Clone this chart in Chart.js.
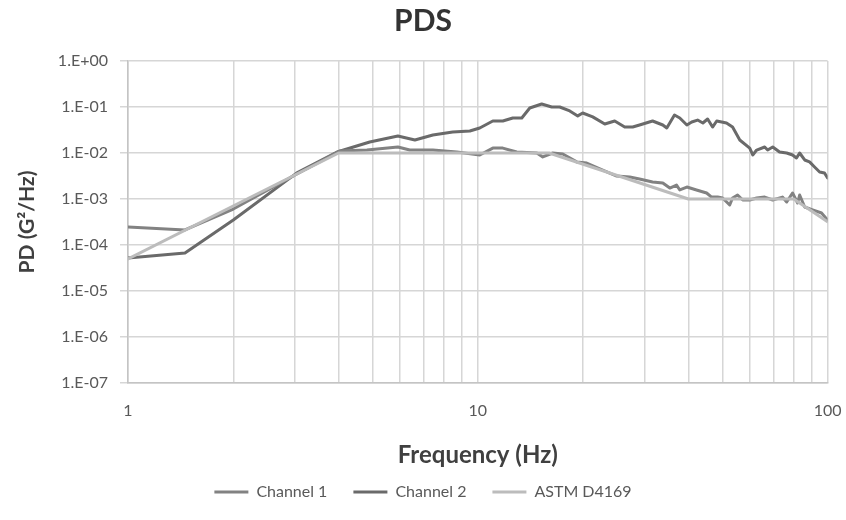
<!DOCTYPE html>
<html><head><meta charset="utf-8">
<script src="https://cdn.jsdelivr.net/npm/chart.js@4.4.1/dist/chart.umd.min.js"></script>
<style>html,body{margin:0;padding:0;background:#fff}#wrap{width:846px;height:520px}</style>
</head><body><div id="wrap"><canvas id="c" width="846" height="520"></canvas></div>
<script>
// ---- data ----
const seriesNames = ['Channel 1', 'Channel 2', 'ASTM D4169'];

const ch1Freq = [1, 1.455, 2.0, 3.04, 4.03, 4.82, 5.91, 6.39, 7.44, 8.71, 10.13, 11.04, 11.79, 12.92, 14.75, 15.34, 16.38, 17.5, 19.18, 20.48, 22.76, 24.96, 27.19, 29.0, 31.6, 33.8, 35.4, 37.0, 37.8, 39.6, 42.2, 45.1, 46.6, 48.5, 50.1, 52.5, 53.5, 55.3, 57.2, 59.9, 62.7, 66.1, 69.7, 74.3, 76.4, 79.4, 82.1, 83.2, 86.0, 90.6, 96.1, 100];
const ch1Val  = [2.46e-4, 2.12e-4, 6.06e-4, 3.5e-3, 1.1e-2, 1.16e-2, 1.35e-2, 1.16e-2, 1.16e-2, 1.05e-2, 9.06e-3, 1.28e-2, 1.28e-2, 1.05e-2, 1.0e-2, 8.2e-3, 1.0e-2, 9.5e-3, 6.4e-3, 6.06e-3, 4.27e-3, 3.16e-3, 3.0e-3, 2.72e-3, 2.34e-3, 2.23e-3, 1.73e-3, 2.01e-3, 1.57e-3, 1.82e-3, 1.57e-3, 1.35e-3, 1.1e-3, 1.1e-3, 1.05e-3, 7.4e-4, 1.05e-3, 1.22e-3, 9.5e-4, 9.5e-4, 1.05e-3, 1.1e-3, 9.5e-4, 1.1e-3, 8.6e-4, 1.35e-3, 8.2e-4, 1.22e-3, 6.7e-4, 5.8e-4, 4.96e-4, 3.5e-4];

const ch2Freq = [1, 1.455, 2.0, 3.04, 3.96, 4.91, 5.91, 6.61, 7.44, 8.48, 9.49, 10.13, 11.04, 11.79, 12.59, 13.36, 14.08, 15.23, 16.27, 17.15, 18.32, 19.31, 19.95, 21.31, 23.07, 24.63, 26.3, 27.73, 29.0, 31.6, 33.8, 34.7, 36.5, 37.8, 39.6, 40.9, 42.5, 44.0, 45.4, 46.9, 48.2, 49.8, 51.4, 53.5, 56.1, 59.9, 61.1, 62.7, 66.1, 67.4, 69.7, 72.9, 76.4, 79.4, 81.5, 83.2, 86.0, 88.8, 91.8, 94.9, 98.0, 100];
const ch2Val  = [5.2e-5, 6.7e-5, 3.5e-4, 3.7e-3, 1.05e-2, 1.73e-2, 2.34e-2, 1.92e-2, 2.46e-2, 2.86e-2, 3.0e-2, 3.5e-2, 4.96e-2, 4.96e-2, 5.77e-2, 5.77e-2, 9.5e-2, 0.116, 0.1, 0.1, 8.2e-2, 6.4e-2, 7.4e-2, 6.1e-2, 4.27e-2, 4.96e-2, 3.67e-2, 3.67e-2, 4.06e-2, 4.96e-2, 4.06e-2, 3.5e-2, 6.7e-2, 5.77e-2, 4.06e-2, 4.72e-2, 5.2e-2, 4.49e-2, 5.48e-2, 3.67e-2, 4.96e-2, 4.72e-2, 4.49e-2, 3.67e-2, 1.92e-2, 1.28e-2, 9.06e-3, 1.16e-2, 1.35e-2, 1.16e-2, 1.35e-2, 1.05e-2, 1.0e-2, 9.06e-3, 7.8e-3, 1.0e-2, 7.05e-3, 6.4e-3, 4.96e-3, 3.86e-3, 3.67e-3, 2.86e-3];

const astmFreq = [1, 4, 16, 40, 80, 100];
const astmVal  = [5e-5, 1e-2, 1e-2, 1e-3, 1e-3, 3.2e-4];

const xGridValues = [1, 2, 3, 4, 5, 6, 7, 8, 9, 10, 20, 30, 40, 50, 60, 70, 80, 90, 100];
const xLabelValues = [1, 10, 100];
const xTickLabels  = ['1', '10', '100'];
const yGridValues = [1e-7, 1e-6, 1e-5, 1e-4, 1e-3, 1e-2, 1e-1, 1];
const yTickLabels = ['1.E-07', '1.E-06', '1.E-05', '1.E-04', '1.E-03', '1.E-02', '1.E-01', '1.E+00'];

// ---- styling ----
const colors = ['#828282', '#6a6a6a', '#bcbcbc'];
const FONT = 'Lato, "Open Sans", sans-serif';

function pts(fr, va) { return fr.map((f, i) => ({ x: f, y: va[i] })); }

const datasets = [
  { label: seriesNames[0], data: pts(ch1Freq, ch1Val), order: 2 },
  { label: seriesNames[1], data: pts(ch2Freq, ch2Val), order: 3 },
  { label: seriesNames[2], data: pts(astmFreq, astmVal), order: 1 }
].map((d, i) => Object.assign(d, {
  borderColor: colors[i], backgroundColor: colors[i], borderWidth: 3,
  pointRadius: 0, tension: 0, borderJoinStyle: 'round', borderCapStyle: 'round', fill: false
}));

new Chart(document.getElementById('c'), {
  type: 'line',
  data: { datasets },
  options: {
    responsive: false, animation: false, devicePixelRatio: 1,
    layout: { padding: { left: 9, right: 9, top: 0, bottom: 10 } },
    plugins: {
      tooltip: { enabled: false },
      title: {
        display: true, text: 'PDS', color: '#333333',
        font: { family: FONT, size: 30, weight: 'bold', lineHeight: 1.2 },
        padding: { top: 3, bottom: 22 }
      },
      legend: {
        position: 'bottom', align: 'center',
        labels: {
          boxWidth: 34, boxHeight: 3, padding: 26, color: '#595959',
          font: { family: FONT, size: 16 },
          generateLabels: (chart) => chart.data.datasets.map((ds, i) => ({
            text: ds.label, fillStyle: ds.borderColor, strokeStyle: ds.borderColor,
            lineWidth: 0, hidden: false, datasetIndex: i, fontColor: '#595959'
          }))
        }
      }
    },
    scales: {
      x: {
        type: 'logarithmic', min: 1, max: 100,
        afterBuildTicks: (s) => { s.ticks = xGridValues.map(v => ({ value: v })); },
        afterFit: (s) => { s.height = 75; },
        ticks: {
          autoSkip: false, maxRotation: 0, padding: 4.5, color: '#595959',
          font: { family: FONT, size: 16 },
          callback: (v) => { const k = xLabelValues.indexOf(v); return k >= 0 ? xTickLabels[k] : ''; }
        },
        grid: { color: '#d6d6d6', lineWidth: 1.5, drawTicks: true, tickLength: 13.5, tickColor: 'rgba(0,0,0,0)' },
        border: { color: '#c4c4c4', width: 1.5 },
        title: {
          display: true, text: 'Frequency (Hz)', color: '#404040',
          font: { family: FONT, size: 24, weight: 'bold', lineHeight: 1.2 },
          padding: { top: 0, bottom: -11.4 }
        }
      },
      y: {
        type: 'logarithmic', min: 1e-7, max: 1,
        afterBuildTicks: (s) => { s.ticks = yGridValues.map(v => ({ value: v })); },
        afterFit: (s) => { s.width = 119; },
        ticks: {
          autoSkip: false, padding: 12, color: '#595959',
          font: { family: FONT, size: 16 },
          callback: (v) => { const k = yGridValues.findIndex(g => Math.abs(Math.log10(g) - Math.log10(v)) < 1e-6); return k >= 0 ? yTickLabels[k] : ''; }
        },
        grid: { color: '#d6d6d6', lineWidth: 1.5, drawTicks: true, tickLength: 8 },
        border: { color: '#c4c4c4', width: 1.5 },
        title: {
          display: true, text: 'PD (G²/Hz)', color: '#404040',
          font: { family: FONT, size: 21, weight: 'bold', lineHeight: 1.2 },
          padding: { top: 6, bottom: 0 }
        }
      }
    }
  }
});
</script></body></html>
